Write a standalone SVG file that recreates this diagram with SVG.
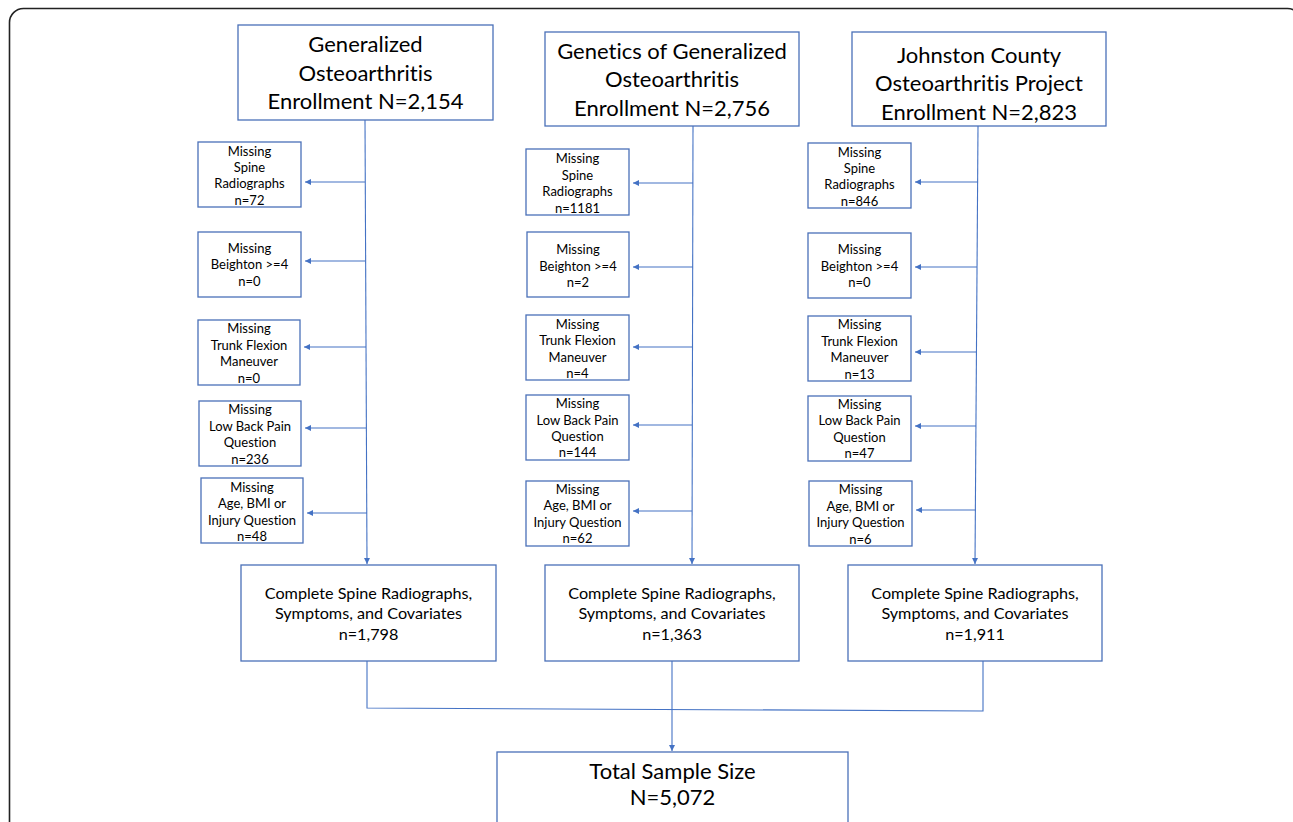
<svg xmlns="http://www.w3.org/2000/svg" width="1293" height="822" viewBox="0 0 1293 822">
<defs>
<marker id="ah" viewBox="0 0 10 10" refX="10" refY="5" markerWidth="6" markerHeight="6" markerUnits="userSpaceOnUse" orient="auto">
<path d="M0,0 L10,5 L0,10 z" fill="#4472c4"/>
</marker>
<style>
.box{fill:#fff;stroke:#4a70b8;stroke-width:1.3}
.ln{fill:none;stroke:#4472c4;stroke-width:1.1}
.t{font-family:Lato,"Liberation Sans",sans-serif;fill:#000;text-anchor:middle;font-variant-ligatures:none}
.big{font-size:22px}
.sm{font-size:13px}
.md{font-size:16.2px}
</style>
</defs>
<rect width="1293" height="822" fill="#fff"/>
<rect x="9.5" y="8.5" width="1292" height="840" rx="14" fill="none" stroke="#222" stroke-width="1.6"/>

<g id="connectors">
<line class="ln" x1="365" y1="120" x2="367" y2="564" marker-end="url(#ah)"/>
<line class="ln" x1="693" y1="126" x2="692" y2="564" marker-end="url(#ah)"/>
<line class="ln" x1="978" y1="126" x2="975" y2="564" marker-end="url(#ah)"/>
<line class="ln" x1="365" y1="182" x2="305" y2="182" marker-end="url(#ah)"/>
<line class="ln" x1="365" y1="261" x2="305" y2="261" marker-end="url(#ah)"/>
<line class="ln" x1="366" y1="347" x2="304" y2="347" marker-end="url(#ah)"/>
<line class="ln" x1="366" y1="428" x2="305" y2="428" marker-end="url(#ah)"/>
<line class="ln" x1="367" y1="513" x2="307" y2="513" marker-end="url(#ah)"/>
<line class="ln" x1="693" y1="183" x2="633" y2="183" marker-end="url(#ah)"/>
<line class="ln" x1="693" y1="267" x2="633" y2="267" marker-end="url(#ah)"/>
<line class="ln" x1="692" y1="347" x2="633" y2="347" marker-end="url(#ah)"/>
<line class="ln" x1="692" y1="425" x2="633" y2="425" marker-end="url(#ah)"/>
<line class="ln" x1="692" y1="511" x2="633" y2="511" marker-end="url(#ah)"/>
<line class="ln" x1="978" y1="182" x2="915" y2="182" marker-end="url(#ah)"/>
<line class="ln" x1="977" y1="267" x2="915" y2="267" marker-end="url(#ah)"/>
<line class="ln" x1="977" y1="352" x2="915" y2="352" marker-end="url(#ah)"/>
<line class="ln" x1="976" y1="426" x2="915" y2="426" marker-end="url(#ah)"/>
<line class="ln" x1="976" y1="510" x2="916" y2="510" marker-end="url(#ah)"/>
<polyline class="ln" points="367,661 367,708 983,711 983,661"/>
<line class="ln" x1="672" y1="661" x2="672" y2="751" marker-end="url(#ah)"/>
</g>

<g id="go-enroll">
<rect class="box" x="238" y="25" width="255" height="95"/>
<text class="t big" x="365.5" y="51.5">Generalized</text>
<text class="t big" x="365.5" y="80.5">Osteoarthritis</text>
<text class="t big" x="365.5" y="108.5">Enrollment N=2,154</text>
</g>
<g id="ggo-enroll">
<rect class="box" x="545" y="32" width="254" height="94"/>
<text class="t big" x="672" y="58.5">Genetics of Generalized</text>
<text class="t big" x="672" y="86.5">Osteoarthritis</text>
<text class="t big" x="672" y="115.5">Enrollment N=2,756</text>
</g>
<g id="jocoop-enroll">
<rect class="box" x="852" y="32" width="254" height="94"/>
<text class="t big" x="979" y="62.5">Johnston County</text>
<text class="t big" x="979" y="90.5">Osteoarthritis Project</text>
<text class="t big" x="979" y="119.5">Enrollment N=2,823</text>
</g>

<g id="go-spine">
<rect class="box" x="198" y="142" width="103" height="65"/>
<text class="t sm" x="249.5" y="155.5">Missing</text>
<text class="t sm" x="249.5" y="171.5">Spine</text>
<text class="t sm" x="249.5" y="187.5">Radiographs</text>
<text class="t sm" x="249.5" y="204.5">n=72</text>
</g>
<g id="go-beighton">
<rect class="box" x="198" y="232" width="103" height="65"/>
<text class="t sm" x="249.5" y="252.5">Missing</text>
<text class="t sm" x="249.5" y="268.5">Beighton &gt;=4</text>
<text class="t sm" x="249.5" y="285.5">n=0</text>
</g>
<g id="go-trunk">
<rect class="box" x="198" y="320" width="102" height="65"/>
<text class="t sm" x="249" y="332.5">Missing</text>
<text class="t sm" x="249" y="349.5">Trunk Flexion</text>
<text class="t sm" x="249" y="365.5">Maneuver</text>
<text class="t sm" x="249" y="382.5">n=0</text>
</g>
<g id="go-lbp">
<rect class="box" x="199" y="401" width="102" height="65"/>
<text class="t sm" x="250" y="413.5">Missing</text>
<text class="t sm" x="250" y="430.5">Low Back Pain</text>
<text class="t sm" x="250" y="446.5">Question</text>
<text class="t sm" x="250" y="463.5">n=236</text>
</g>
<g id="go-age">
<rect class="box" x="201" y="478" width="102" height="65"/>
<text class="t sm" x="252" y="491.5">Missing</text>
<text class="t sm" x="252" y="507.5">Age, BMI or</text>
<text class="t sm" x="252" y="524.5">Injury Question</text>
<text class="t sm" x="252" y="540.5">n=48</text>
</g>

<g id="ggo-spine">
<rect class="box" x="526" y="149" width="103" height="66"/>
<text class="t sm" x="577.5" y="162.5">Missing</text>
<text class="t sm" x="577.5" y="179.5">Spine</text>
<text class="t sm" x="577.5" y="195.5">Radiographs</text>
<text class="t sm" x="577.5" y="212.5">n=1181</text>
</g>
<g id="ggo-beighton">
<rect class="box" x="527" y="232" width="102" height="65"/>
<text class="t sm" x="578" y="253.5">Missing</text>
<text class="t sm" x="578" y="270.5">Beighton &gt;=4</text>
<text class="t sm" x="578" y="286.5">n=2</text>
</g>
<g id="ggo-trunk">
<rect class="box" x="526" y="315" width="103" height="65"/>
<text class="t sm" x="577.5" y="328.5">Missing</text>
<text class="t sm" x="577.5" y="344.5">Trunk Flexion</text>
<text class="t sm" x="577.5" y="361.5">Maneuver</text>
<text class="t sm" x="577.5" y="377.5">n=4</text>
</g>
<g id="ggo-lbp">
<rect class="box" x="526" y="395" width="103" height="65"/>
<text class="t sm" x="577.5" y="407.5">Missing</text>
<text class="t sm" x="577.5" y="424.5">Low Back Pain</text>
<text class="t sm" x="577.5" y="440.5">Question</text>
<text class="t sm" x="577.5" y="456.5">n=144</text>
</g>
<g id="ggo-age">
<rect class="box" x="526" y="481" width="103" height="65"/>
<text class="t sm" x="577.5" y="493.5">Missing</text>
<text class="t sm" x="577.5" y="509.5">Age, BMI or</text>
<text class="t sm" x="577.5" y="526.5">Injury Question</text>
<text class="t sm" x="577.5" y="542.5">n=62</text>
</g>

<g id="jocoop-spine">
<rect class="box" x="808" y="143" width="103" height="65"/>
<text class="t sm" x="859.5" y="156.5">Missing</text>
<text class="t sm" x="859.5" y="172.5">Spine</text>
<text class="t sm" x="859.5" y="188.5">Radiographs</text>
<text class="t sm" x="859.5" y="205.5">n=846</text>
</g>
<g id="jocoop-beighton">
<rect class="box" x="808" y="233" width="103" height="65"/>
<text class="t sm" x="859.5" y="253.5">Missing</text>
<text class="t sm" x="859.5" y="270.5">Beighton &gt;=4</text>
<text class="t sm" x="859.5" y="286.5">n=0</text>
</g>
<g id="jocoop-trunk">
<rect class="box" x="808" y="316" width="103" height="65"/>
<text class="t sm" x="859.5" y="328.5">Missing</text>
<text class="t sm" x="859.5" y="345.5">Trunk Flexion</text>
<text class="t sm" x="859.5" y="361.5">Maneuver</text>
<text class="t sm" x="859.5" y="378.5">n=13</text>
</g>
<g id="jocoop-lbp">
<rect class="box" x="808" y="396" width="103" height="65"/>
<text class="t sm" x="859.5" y="408.5">Missing</text>
<text class="t sm" x="859.5" y="424.5">Low Back Pain</text>
<text class="t sm" x="859.5" y="441.5">Question</text>
<text class="t sm" x="859.5" y="457.5">n=47</text>
</g>
<g id="jocoop-age">
<rect class="box" x="809" y="481" width="103" height="65"/>
<text class="t sm" x="860.5" y="493.5">Missing</text>
<text class="t sm" x="860.5" y="510.5">Age, BMI or</text>
<text class="t sm" x="860.5" y="526.5">Injury Question</text>
<text class="t sm" x="860.5" y="543.5">n=6</text>
</g>

<g id="go-complete">
<rect class="box" x="241" y="565" width="255" height="96"/>
<text class="t md" x="368.5" y="598.5">Complete Spine Radiographs,</text>
<text class="t md" x="368.5" y="618.5">Symptoms, and Covariates</text>
<text class="t md" x="368.5" y="639.5">n=1,798</text>
</g>
<g id="ggo-complete">
<rect class="box" x="545" y="565" width="254" height="96"/>
<text class="t md" x="672" y="598.5">Complete Spine Radiographs,</text>
<text class="t md" x="672" y="618.5">Symptoms, and Covariates</text>
<text class="t md" x="672" y="639.5">n=1,363</text>
</g>
<g id="jocoop-complete">
<rect class="box" x="848" y="565" width="254" height="96"/>
<text class="t md" x="975" y="598.5">Complete Spine Radiographs,</text>
<text class="t md" x="975" y="618.5">Symptoms, and Covariates</text>
<text class="t md" x="975" y="639.5">n=1,911</text>
</g>

<g id="total">
<rect class="box" x="497" y="752" width="351" height="90"/>
<text class="t big" x="672.5" y="778.5">Total Sample Size</text>
<text class="t big" x="672.5" y="804.5">N=5,072</text>
</g>
</svg>
